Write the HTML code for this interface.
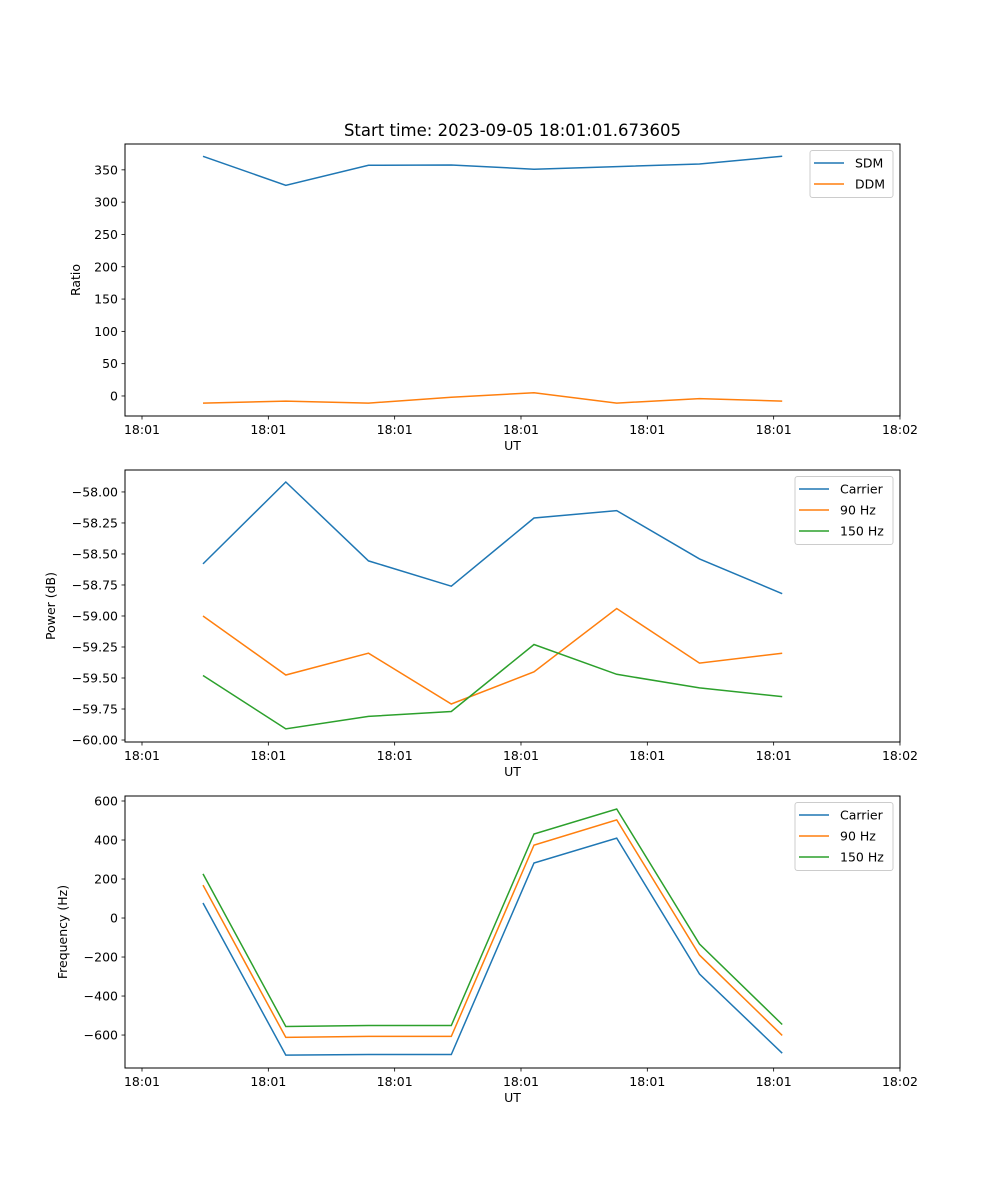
<!DOCTYPE html>
<html><head><meta charset="utf-8"><style>
html,body{margin:0;padding:0;background:#fff}
svg{display:block;font-family:"DejaVu Sans","Liberation Sans",sans-serif}
</style></head><body>
<svg id="fig" width="1000" height="1200" viewBox="0 0 1000 1200">
<text x="512.5" y="136" text-anchor="middle" font-size="16.5">Start time: 2023-09-05 18:01:01.673605</text>
</svg>
<script>
const times = [0.483, 1.138, 1.793, 2.448, 3.103, 3.758, 4.413, 5.068];
const xTicks = [0, 1, 2, 3, 4, 5, 6];
const xTickLabels = ["18:01","18:01","18:01","18:01","18:01","18:01","18:02"];
const sdm = [371, 326, 357, 357.5, 351, 355, 359, 371];
const ddm = [-11, -8, -11, -2, 5, -11, -4, -8];
const powCarrier = [-58.58, -57.92, -58.556, -58.76, -58.21, -58.15, -58.54, -58.82];
const pow90 = [-59.0, -59.476, -59.30, -59.71, -59.45, -58.94, -59.38, -59.30];
const pow150 = [-59.48, -59.91, -59.81, -59.77, -59.23, -59.47, -59.58, -59.65];
const freqCarrier = [77, -703, -700, -700, 282, 410, -287, -693];
const freq90 = [169, -612, -607, -607, 374, 503, -190, -602];
const freq150 = [226, -556, -551, -551, 431, 559, -133, -546];
const ratioTicks = [0, 50, 100, 150, 200, 250, 300, 350];
const powTicks = [-60.0, -59.75, -59.5, -59.25, -59.0, -58.75, -58.5, -58.25, -58.0];
const freqTicks = [-600, -400, -200, 0, 200, 400, 600];

const NS = "http://www.w3.org/2000/svg";
const svg = document.getElementById("fig");
const C = ["#1f77b4", "#ff7f0e", "#2ca02c"];
const L = 125, R = 900;
const FS = "12.5";
const xs = t => 142 + t * 126.33;
function el(tag, attrs, parent){const e=document.createElementNS(NS,tag);for(const k in attrs)e.setAttribute(k,attrs[k]);(parent||svg).appendChild(e);return e;}

function panel(top, bottom, ymin, ymax, ticks, fmt, ylabel, ylabelX, series, names, legend, pname){
  const g = el("g", {});
  
  
  const ys = v => bottom - (v - ymin) / (ymax - ymin) * (bottom - top);
  xTicks.forEach((t, i) => {
    const x = xs(t);
    const tk = el("line", {x1:x, x2:x, y1:bottom, y2:bottom+3.5, stroke:"#000", "stroke-width":0.8}, g);
    
    
    const tx = el("text", {x:x, y:bottom+18, "text-anchor":"middle", "font-size":FS}, g);
    tx.textContent = xTickLabels[i];
    
    
  });
  const xl = el("text", {x:512.5, y:bottom+34, "text-anchor":"middle", "font-size":FS}, g);
  xl.textContent = "UT";
  
  
  ticks.forEach(v => {
    const y = ys(v);
    const tk = el("line", {x1:L-3.5, x2:L, y1:y, y2:y, stroke:"#000", "stroke-width":0.8}, g);
    
    
    const tx = el("text", {x:L-7, y:y+4.5, "text-anchor":"end", "font-size":FS}, g);
    tx.textContent = fmt(v);
    
    
  });
  const yc = (top + bottom) / 2;
  const yl = el("text", {x:ylabelX, y:yc, "text-anchor":"middle", "font-size":FS, transform:`rotate(-90 ${ylabelX} ${yc})`}, g);
  yl.textContent = ylabel;
  
  
  series.forEach((s, i) => {
    const p = el("polyline", {points: s.map((v, j) => xs(times[j]).toFixed(1) + "," + ys(v).toFixed(1)).join(" "), fill:"none", stroke:C[i], "stroke-width":1.5}, g);
    
    
  });
  const fr = el("rect", {x:L, y:top, width:R-L, height:bottom-top, fill:"none", stroke:"#000", "stroke-width":1}, g);
  
  
  const lg = el("g", {}, g);
  
  
  el("rect", {x:legend.x, y:top+6.5, width:legend.w, height:names.length*21+5, rx:2.5, fill:"#fff", "fill-opacity":0.8, stroke:"#ccc", "stroke-width":1}, lg);
  names.forEach((n, i) => {
    const y = top + 19 + i * 21;
    const e = el("g", {}, lg);
    
    
    el("line", {x1:legend.x+4, x2:legend.x+34, y1:y, y2:y, stroke:C[i], "stroke-width":1.5}, e);
    const t = el("text", {x:legend.x+45, y:y+4.5, "font-size":FS}, e);
    t.textContent = n;
  });
}
panel(144, 416, -31, 390, ratioTicks, v => v.toString(), "Ratio", 80, [sdm, ddm], ["SDM", "DDM"], {x:810, w:83}, "ratio");
panel(470, 742, -60.016, -57.823, powTicks, v => (v<0?"\u2212":"") + Math.abs(v).toFixed(2), "Power (dB)", 55, [powCarrier, pow90, pow150], ["Carrier", "90 Hz", "150 Hz"], {x:795, w:98}, "power");
panel(796, 1068, -769, 625.6, freqTicks, v => (v<0?"\u2212":"") + Math.abs(v), "Frequency (Hz)", 67, [freqCarrier, freq90, freq150], ["Carrier", "90 Hz", "150 Hz"], {x:795, w:98}, "frequency");
</script>
</body></html>
